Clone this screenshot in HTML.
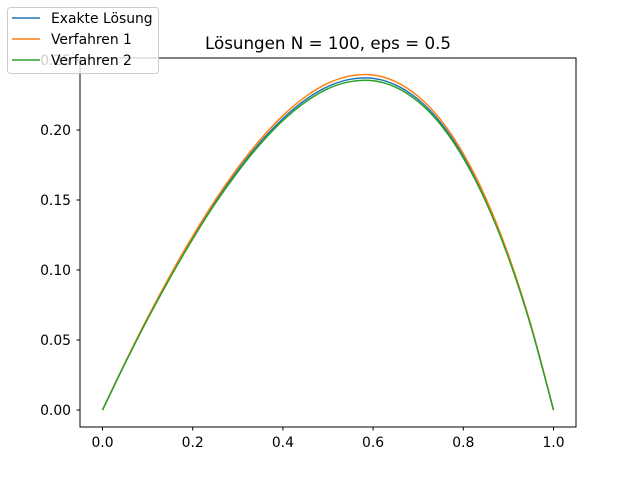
<!DOCTYPE html>
<html><head><meta charset="utf-8"><style>
html,body{margin:0;padding:0;background:#fff}
svg{display:block;font-family:"DejaVu Sans","Liberation Sans",sans-serif}
</style></head><body>
<svg id="chart" width="640" height="480" viewBox="0 0 640 480">
<rect width="640" height="480" fill="#fff"/>
<text x="328" y="49" text-anchor="middle" font-size="16.7" fill="#000">Lösungen N = 100, eps = 0.5</text>
<g id="ticks"></g>
<g id="series"></g>
<rect x="80" y="58" width="496" height="369" fill="none" stroke="#000" stroke-width="1"/>
<g>
<rect x="7.5" y="7.5" width="151" height="66" rx="3" fill="#fff" fill-opacity="0.8" stroke="#ccc"/>
<line x1="12" y1="18" x2="40" y2="18" stroke="#1f77b4" stroke-width="1.5"/>
<text x="51" y="23" font-size="13.9">Exakte Lösung</text>
<line x1="12" y1="39" x2="40" y2="39" stroke="#ff7f0e" stroke-width="1.5"/>
<text x="51" y="44" font-size="13.9">Verfahren 1</text>
<line x1="12" y1="60" x2="40" y2="60" stroke="#2ca02c" stroke-width="1.5"/>
<text x="51" y="65" font-size="13.9">Verfahren 2</text>
</g>
</svg>
<script>
const xs = [0,0.05,0.1,0.15,0.2,0.25,0.3,0.35,0.4,0.45,0.5,0.55,0.6,0.65,0.7,0.75,0.8,0.85,0.9,0.95,1];
const exakt = [0,.0335,.0654,.0952,.1230,.1485,.1713,.1913,.2082,.2216,.2311,.2363,.2369,.2322,.2218,.2051,.1813,.1498,.1097,.0601,0];
const verfahren1 = [0,.0338,.0660,.0962,.1242,.1500,.1730,.1932,.2103,.2238,.2334,.2387,.2393,.2345,.2240,.2072,.1831,.1513,.1108,.0607,0];
const verfahren2 = [0,.0333,.0649,.0945,.1221,.1475,.1701,.1900,.2067,.2200,.2295,.2346,.2352,.2306,.2202,.2037,.1800,.1487,.1089,.0597,0];
const xTicks = [0,0.2,0.4,0.6,0.8,1.0];
const xTickLabels = ["0.0","0.2","0.4","0.6","0.8","1.0"];
const yTicks = [0,0.05,0.1,0.15,0.2,0.25];
const yTickLabels = ["0.00","0.05","0.10","0.15","0.20","0.25"];

const NS="http://www.w3.org/2000/svg";
function sx(v){return 102.5+v*451;}
function sy(v){return 410-v*1400;}
function mk(tag,attrs,parent){const e=document.createElementNS(NS,tag);for(const k in attrs)e.setAttribute(k,attrs[k]);parent.appendChild(e);return e;}
const tg=document.getElementById('ticks');
xTicks.forEach((t,i)=>{
  const l=mk('line',{x1:sx(t),x2:sx(t),y1:427,y2:430.5,stroke:'#000'},tg);
  
  
  const tx=mk('text',{x:sx(t),y:447,'text-anchor':'middle','font-size':'13.9'},tg);
  tx.textContent=xTickLabels[i];
  
  
});
yTicks.forEach((t,i)=>{
  const l=mk('line',{x1:76.5,x2:80,y1:sy(t),y2:sy(t),stroke:'#000'},tg);
  
  
  const tx=mk('text',{x:71,y:sy(t)+5,'text-anchor':'end','font-size':'13.9'},tg);
  tx.textContent=yTickLabels[i];
  
  
});
function pathFor(ys){
  const p=xs.map((x,i)=>[sx(x),sy(ys[i])]);
  let d='M'+p[0][0]+','+p[0][1];
  for(let i=0;i<p.length-1;i++){
    const p0=p[Math.max(0,i-1)],p1=p[i],p2=p[i+1],p3=p[Math.min(p.length-1,i+2)];
    const c1=[p1[0]+(p2[0]-p0[0])/6,p1[1]+(p2[1]-p0[1])/6];
    const c2=[p2[0]-(p3[0]-p1[0])/6,p2[1]-(p3[1]-p1[1])/6];
    d+=' C'+c1[0]+','+c1[1]+' '+c2[0]+','+c2[1]+' '+p2[0]+','+p2[1];
  }
  return d;
}
const sg=document.getElementById('series');
[[exakt,'#1f77b4','series-exakt'],[verfahren1,'#ff7f0e','series-verfahren-1'],[verfahren2,'#2ca02c','series-verfahren-2']].forEach(s=>{
  const e=mk('path',{d:pathFor(s[0]),fill:'none',stroke:s[1],'stroke-width':'1.5'},sg);
  
  
});
</script>
</body></html>
